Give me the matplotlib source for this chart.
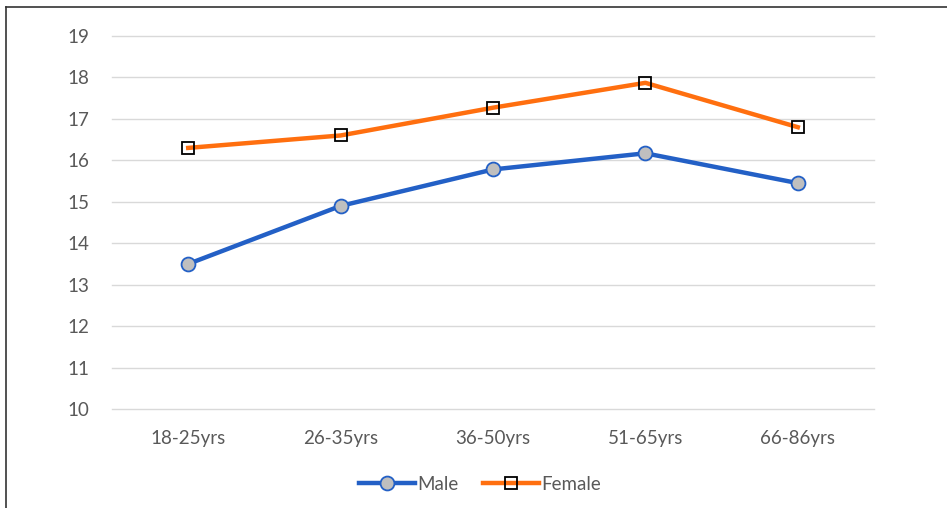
import matplotlib.pyplot as plt
from matplotlib.lines import Line2D

plt.rcParams['font.family'] = ['Lato', 'DejaVu Sans']

categories = ['18-25yrs', '26-35yrs', '36-50yrs', '51-65yrs', '66-86yrs']
male = [13.5, 14.9, 15.78, 16.17, 15.45]
female = [16.3, 16.6, 17.27, 17.87, 16.8]
yticks = [10, 11, 12, 13, 14, 15, 16, 17, 18, 19]

text_color = '#595959'

fig = plt.figure(figsize=(9.47, 5.08), dpi=100)
ax = fig.add_axes([112 / 947, 1 - 409 / 508, 762 / 947, 373 / 508])

x = list(range(len(categories)))
ax.plot(x, male, color='#2360C6', lw=3.2, marker='o', markersize=10,
        markerfacecolor='#BFBFBF', markeredgecolor='#2360C6', markeredgewidth=1.3,
        label='Male', zorder=3)
ax.plot(x, female, color='#FF6F0F', lw=3.2, marker='s', markersize=9,
        markerfacecolor='none', markeredgecolor='black', markeredgewidth=1.3,
        label='Female', zorder=3)

ax.set_xlim(-0.5, len(categories) - 0.5)
ax.set_ylim(10, 19)
ax.set_yticks(yticks)
ax.set_xticks(x)
ax.set_xticklabels(categories)
ax.grid(axis='y', color='#D9D9D9', lw=1)
for gl in ax.get_ygridlines():
    gl.set_clip_on(False)
ax.set_axisbelow(True)
for s in ax.spines.values():
    s.set_visible(False)
ax.tick_params(length=0, labelsize=13.5, colors=text_color)
ax.tick_params(axis='y', pad=16)
ax.tick_params(axis='x', pad=15)

leg = fig.legend(loc='center', bbox_to_anchor=(480 / 947, 1 - 484 / 508), ncol=2,
                 frameon=False, fontsize=13.5, handlelength=3.0, handletextpad=0.1,
                 columnspacing=1.3)
for t in leg.get_texts():
    t.set_color(text_color)

# outer border (left and top only visible)
fig.add_artist(Line2D([6 / 947, 6 / 947], [0, 1 - 7 / 508], color='#333333', lw=1.2,
                      transform=fig.transFigure))
fig.add_artist(Line2D([6 / 947, 1], [1 - 7 / 508, 1 - 7 / 508], color='#333333', lw=1.2,
                      transform=fig.transFigure))

fig.savefig('out.png', dpi=100)
